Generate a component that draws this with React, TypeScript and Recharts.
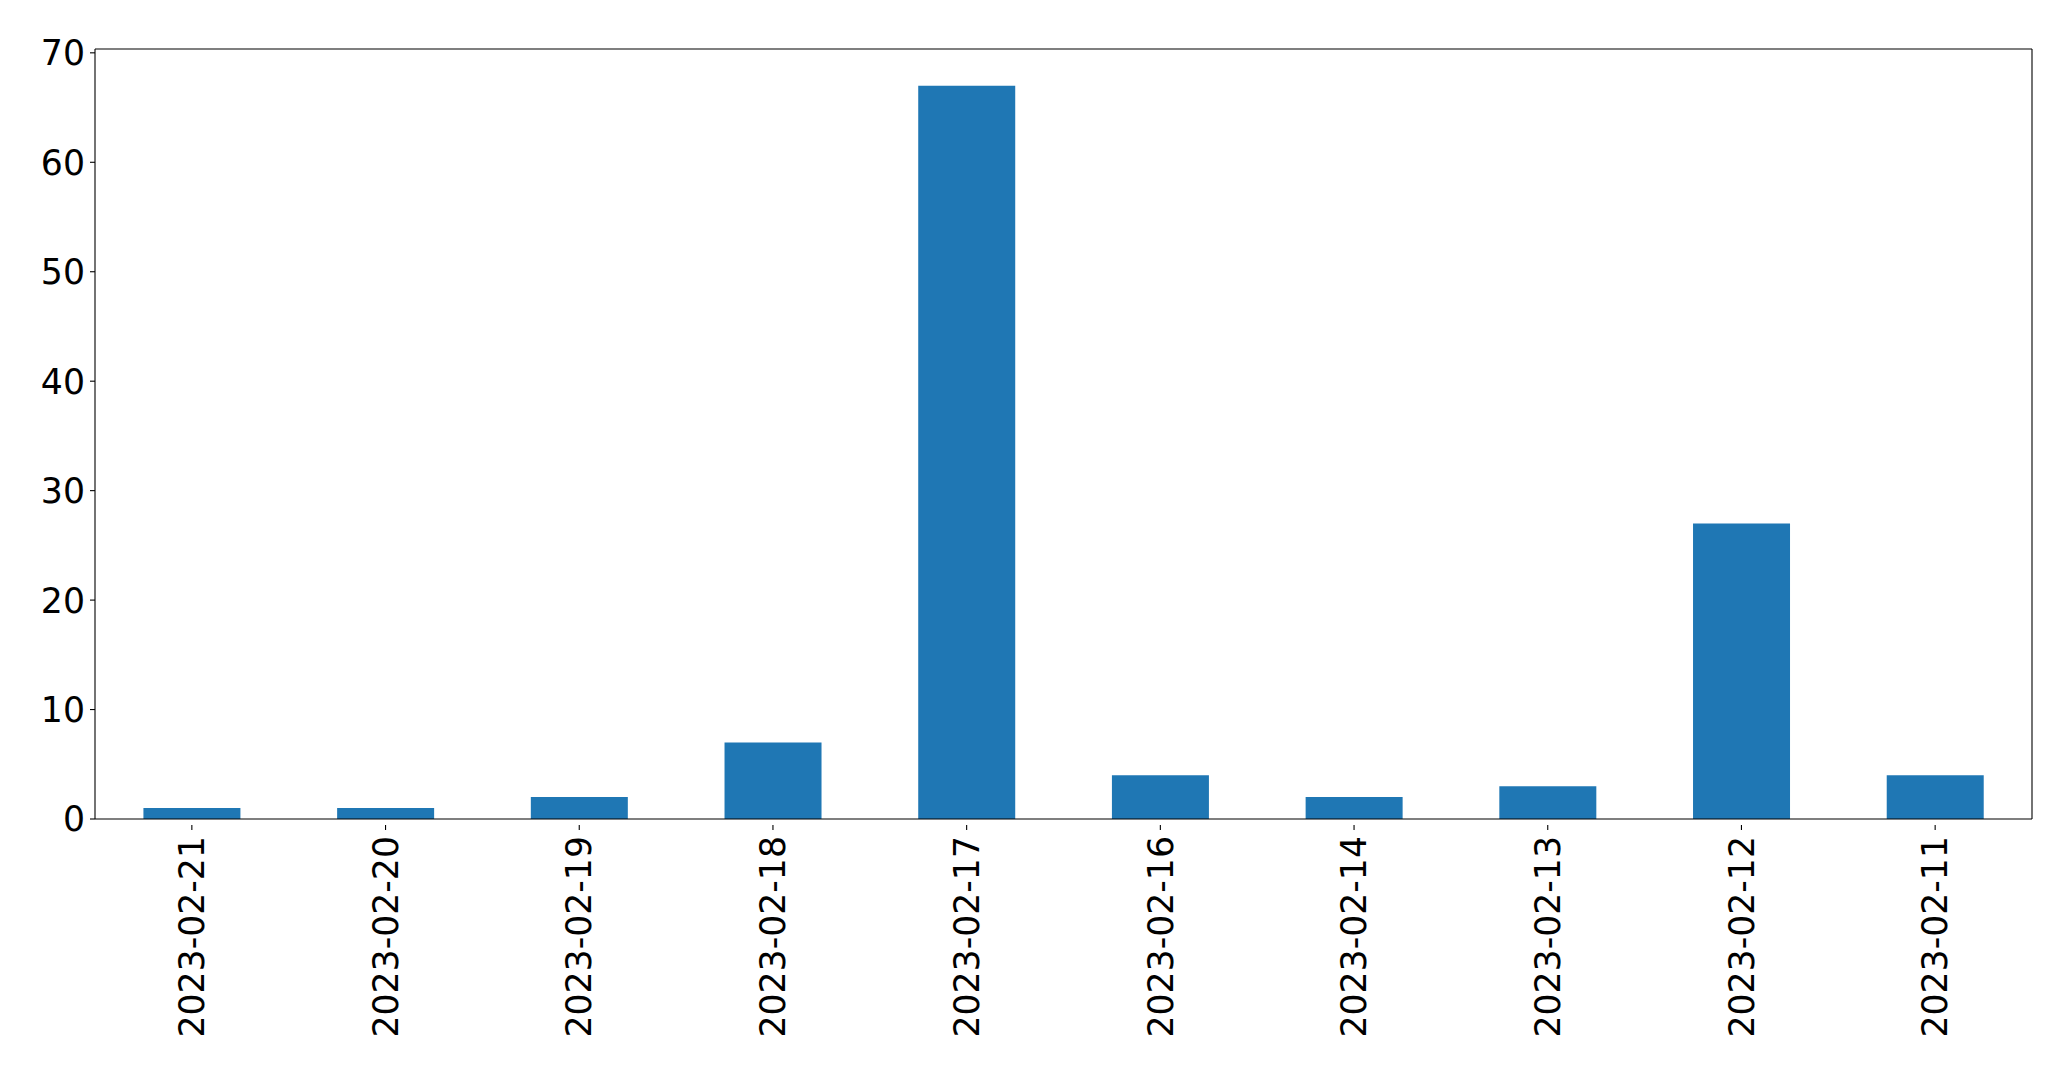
import React from 'react';
import { BarChart, Bar, XAxis, YAxis } from 'recharts';

const categories = ['2023-02-21', '2023-02-20', '2023-02-19', '2023-02-18', '2023-02-17', '2023-02-16', '2023-02-14', '2023-02-13', '2023-02-12', '2023-02-11'];
const counts = [1, 1, 2, 7, 67, 4, 2, 3, 27, 4];
const yTicks = [0, 10, 20, 30, 40, 50, 60, 70];

const data = categories.map((c, i) => ({ date: c, count: counts[i] }));

const FONT = 'DejaVu Sans';
const FS = 34.7;

const XTick = (props: any) => {
  const { x, y, payload } = props;
  return (
    <g>
      <line x1={x} y1={y - 5} x2={x} y2={y} stroke="#000" strokeWidth={1.1} />
      <text
        x={0}
        y={0}
        transform={`translate(${x},${y + 6}) rotate(-90)`}
        textAnchor="end"
        dy="0.35em"
        fontFamily={FONT}
        fontSize={FS}
        fill="#000"
      >
        {payload.value}
      </text>
    </g>
  );
};

const YTick = (props: any) => {
  const { x, y, payload } = props;
  return (
    <text x={x} y={y} textAnchor="end" dy="0.36em" fontFamily={FONT} fontSize={FS} fill="#000">
      {payload.value}
    </text>
  );
};

export default function App() {
  return (
    <div style={{ position: 'absolute', left: 0, top: 0, width: 2071, height: 1071, background: '#fff' }}>
      <BarChart
        width={2071}
        height={1071}
        data={data}
        margin={{ top: 48, right: 38, bottom: 0, left: 0 }}
        barCategoryGap="25%"
      >
        <XAxis
          dataKey="date"
          xAxisId="b"
          interval={0}
          height={252}
          stroke="#000"
          tickLine={false}
          tick={<XTick />}
          tickMargin={5}
          axisLine={{ stroke: '#000', strokeWidth: 1.1 }}
        />
        <XAxis
          dataKey="date"
          xAxisId="t"
          orientation="top"
          height={1}
          stroke="#000"
          tick={false}
          tickLine={false}
          axisLine={{ stroke: '#000', strokeWidth: 1.1 }}
        />
        <YAxis
          yAxisId="l"
          width={95}
          domain={[0, 70.35]}
          ticks={yTicks}
          interval={0}
          stroke="#000"
          tickSize={5}
          tickMargin={5}
          tickLine={{ stroke: '#000', strokeWidth: 1.1 }}
          tick={<YTick />}
          axisLine={{ stroke: '#000', strokeWidth: 1.1 }}
          allowDataOverflow
        />
        <YAxis
          yAxisId="r"
          orientation="right"
          width={1}
          domain={[0, 70.35]}
          stroke="#000"
          tick={false}
          tickLine={false}
          axisLine={{ stroke: '#000', strokeWidth: 1.1 }}
        />
        <Bar dataKey="count" xAxisId="b" yAxisId="l" fill="#1f77b4" isAnimationActive={false} />
      </BarChart>
    </div>
  );
}
